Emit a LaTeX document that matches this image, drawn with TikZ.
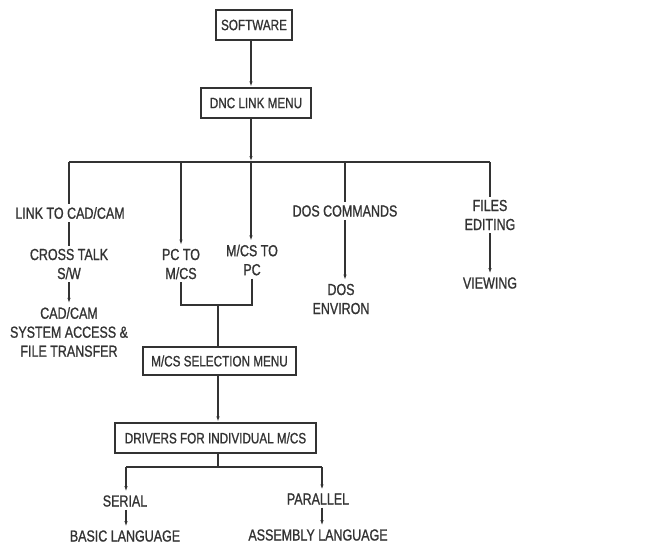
\documentclass[tikz,border=0pt]{standalone}
\usepackage{fontspec}
\setmainfont{Liberation Sans}[FakeStretch=0.78,FakeBold=1]
\usetikzlibrary{arrows.meta}
\begin{document}
\begin{tikzpicture}[x=1pt,y=-1pt,
  ink/.style={draw=black!80, line width=1.2pt},
  box/.style={ink, rectangle, inner sep=0pt, font=\fontsize{15}{19}\selectfont, text=black!80},
  lbl/.style={align=center, inner sep=3pt, font=\fontsize{16}{19}\selectfont, text=black!80},
  conn/.style={ink},
  arr/.style={ink, -{Latex[length=6pt,width=3.2pt]}}]
\useasboundingbox (0,0) rectangle (661,547);
% boxes
\node[box, minimum width=76pt, minimum height=30pt] (sw) at (254,25) {SOFTWARE};
\node[box, minimum width=110pt, minimum height=30pt] (dnc) at (256,103) {DNC LINK MENU};
\node[box, minimum width=153pt, minimum height=28pt] (sel) at (219.5,361) {M/CS SELECTION MENU};
\node[box, minimum width=201pt, minimum height=30pt] (drv) at (215.5,438) {DRIVERS FOR INDIVIDUAL M/CS};
% text labels
\node[lbl] (link) at (70,213) {LINK TO CAD/CAM};
\node[lbl] (cross) at (69,264) {CROSS TALK\\S/W};
\node[lbl] (cadcam) at (69,332) {CAD/CAM\\SYSTEM ACCESS \&\\FILE TRANSFER};
\node[lbl] (pcto) at (181,264) {PC TO\\M/CS};
\node[lbl] (mcsto) at (252,260) {M/CS TO\\PC};
\node[lbl] (dos) at (345,211) {DOS COMMANDS};
\node[lbl] (dosenv) at (341,299) {DOS\\ENVIRON};
\node[lbl] (files) at (490,215) {FILES\\EDITING};
\node[lbl] (view) at (490,283) {VIEWING};
\node[lbl] (serial) at (125,501) {SERIAL};
\node[lbl] (parallel) at (318,499) {PARALLEL};
\node[lbl] (basic) at (125,536) {BASIC LANGUAGE};
\node[lbl] (assembly) at (318,535) {ASSEMBLY LANGUAGE};
% junction coordinates
\coordinate (top) at (251,162);
\coordinate (bl) at (69,162);
\coordinate (br) at (490,162);
\coordinate (mj) at (218,305);
\coordinate (db) at (218,467);
\coordinate (dl) at (126,467);
\coordinate (dr) at (322,467);
% connectors
\draw[arr] (sw.south -| top) -- (dnc.north -| top);
\draw[arr] (dnc.south -| top) -- (top);
\draw[conn] (bl) -- (br);
\draw[conn] (bl) -- (link.north -| bl);
\draw[conn] (link.south -| bl) -- (cross.north -| bl);
\draw[arr] (cross.south -| bl) -- (cadcam.north -| bl);
\draw[arr] (top -| pcto) -- (pcto.north);
\draw[arr] (top) -- (mcsto.north -| top);
\draw[conn] (top -| dos) -- (dos.north);
\draw[arr] (dos.south) -- (dosenv.north -| dos);
\draw[conn] (br) -- (files.north -| br);
\draw[arr] (files.south -| br) -- (view.north -| br);
\draw[conn] (pcto.south) |- (mj);
\draw[conn] (mcsto.south) |- (mj);
\draw[conn] (mj) -- (sel.north -| mj);
\draw[arr] (sel.south -| mj) -- (drv.north -| mj);
\draw[conn] (drv.south -| db) -- (db);
\draw[conn] (dl) -- (dr);
\draw[arr] (dl) -- (serial.north -| dl);
\draw[arr] (dr) -- (parallel.north -| dr);
\draw[arr] (serial.south -| dl) -- (basic.north -| dl);
\draw[arr] (parallel.south -| dr) -- (assembly.north -| dr);
\end{tikzpicture}
\end{document}
